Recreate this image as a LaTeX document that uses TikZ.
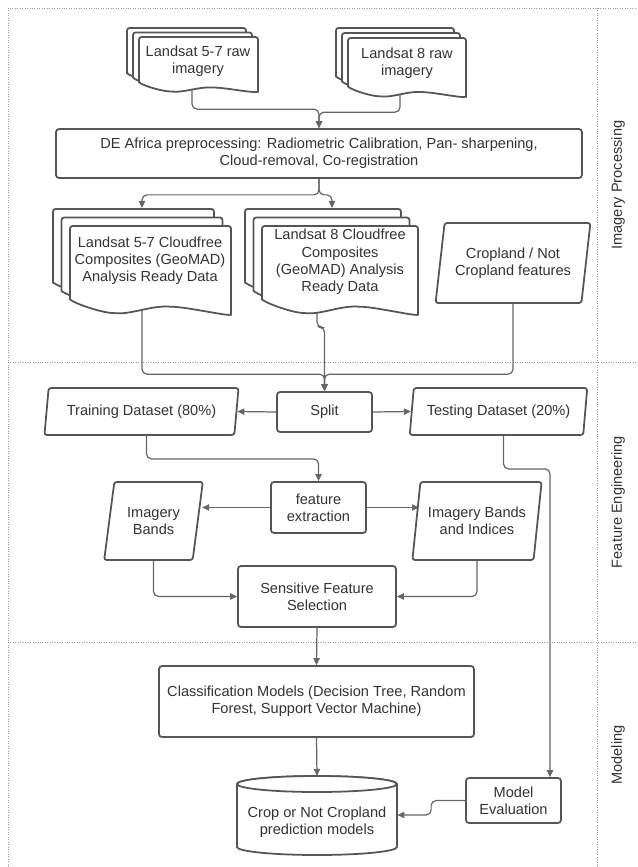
\documentclass[tikz,border=0pt]{standalone}
\usepackage{fontspec}
\setmainfont{Liberation Sans}
\usetikzlibrary{shapes.geometric,arrows.meta,backgrounds}

\definecolor{inkgray}{HTML}{333333}
\definecolor{linegray}{HTML}{555555}
\definecolor{conngray}{HTML}{666666}
\definecolor{lanegray}{HTML}{9A9A9A}

\tikzset{
  sheet/.style={draw=linegray, fill=white, line width=1pt, rounded corners=0.05cm},
  proc/.style={draw=linegray, fill=white, line width=1pt, rounded corners=0.06cm,
    align=center, inner sep=0pt, text=inkgray},
  data/.style={trapezium, trapezium left angle=76, trapezium right angle=104,
    trapezium stretches=true, draw=linegray, fill=white, line width=1pt,
    rounded corners=0.05cm, align=center, inner sep=0pt, text=inkgray},
  doctext/.style={align=center, inner sep=0pt, text=inkgray},
  conn/.style={draw=conngray, line width=0.7pt, rounded corners=0.1cm,
    -{Triangle[length=4pt,width=3.6pt]}},
  lane/.style={draw=lanegray, line width=0.4pt, densely dotted},
}

% one page of a document symbol: x1,y1,x2,y2 (wavy bottom)
\newcommand{\docsheet}[4]{%
  \pgfmathsetmacro{\sheetw}{(#3)-(#1)}
  \pgfmathsetmacro{\sheeta}{0.17*((#4)-(#2))}
  \filldraw[sheet] ({#1},{(#4)-\sheeta}) -- ({#1},{#2}) -- ({#3},{#2}) -- ({#3},{#4})
    -- plot[smooth, tension=0.6] coordinates {({#3},{#4})
      ({(#1)+0.62*\sheetw},{(#4)-0.67*\sheeta})
      ({(#1)+0.28*\sheetw},{(#4)-0.25*\sheeta}) ({#1},{(#4)-\sheeta})} -- cycle;
}
% stack of three pages: front page x1,y1,x2,y2 and offsets ox,oy
\newcommand{\docstack}[6]{%
  \docsheet{(#1)-2*(#5)}{(#2)-2*(#6)}{(#3)-2*(#5)}{(#4)-2*(#6)}
  \docsheet{(#1)-(#5)}{(#2)-(#6)}{(#3)-(#5)}{(#4)-(#6)}
  \docsheet{#1}{#2}{#3}{#4}
}

\begin{document}
\begin{tikzpicture}[x=0.02cm, y=-0.02cm, font=\fontsize{8.3}{9.8}\selectfont]
    \useasboundingbox (0,0) rectangle (637,867);

    % swimlanes
    \draw[lane] (8,867) -- (8,8) -- (637,8);
    \draw[lane] (597,8) -- (597,867);
    \draw[lane] (8,362) -- (637,362);
    \draw[lane] (8,642) -- (637,642);
    \node[doctext, rotate=90] (laneimg) at (618,185) {Imagery Processing};
    \node[doctext, rotate=90] (lanefeat) at (618,502) {Feature Engineering};
    \node[doctext, rotate=90] (lanemod) at (618,755) {Modeling};

    % raw imagery
    \docstack{139}{37}{258}{94}{6}{4.5}
    \node[doctext] (rawA) at (198,61) {Landsat 5-7 raw\\imagery};
    \docstack{348}{38}{466}{99}{6}{5}
    \node[doctext] (rawB) at (407,63) {Landsat 8 raw\\imagery};

    \node[proc, minimum width=10.52cm, minimum height=0.98cm] (prep) at (319,153.5)
      {DE Africa preprocessing: Radiometric Calibration, Pan- sharpening,\\Cloud-removal, Co-registration};

    % analysis ready data
    \docstack{70}{226}{231}{317}{8.5}{8.5}
    \node[doctext] (cloudA) at (150,261) {Landsat 5-7 Cloudfree\\Composites (GeoMAD)\\Analysis Ready Data};
    \coordinate (cloudAtop) at (142,208);
    \docstack{262}{226}{418}{317}{8.5}{8.5}
    \node[doctext] (cloudB) at (340,262) {Landsat 8 Cloudfree\\Composites\\(GeoMAD) Analysis\\Ready Data};
    \coordinate (cloudBtop) at (332,208);

    \node[data, minimum width=3.12cm, minimum height=1.6cm] (crop) at (513,263)
      {Cropland / Not\\Cropland features};

    % feature engineering
    \node[proc, minimum width=1.9cm, minimum height=0.8cm] (split) at (324.5,412) {Split};
    \node[data, minimum width=3.9cm, minimum height=0.94cm] (train) at (141.5,411.5) {Training Dataset (80\%)};
    \node[data, minimum width=3.58cm, minimum height=0.94cm] (test) at (498.5,411.5) {Testing Dataset (20\%)};
    \node[proc, minimum width=1.9cm, minimum height=1.02cm] (fe) at (318.5,507.5) {feature\\extraction};
    \node[data, minimum width=1.98cm, minimum height=1.56cm] (bands) at (153.5,521) {Imagery\\Bands};
    \node[data, minimum width=2.6cm, minimum height=1.56cm] (indices) at (477,521) {Imagery Bands\\and Indices};
    \node[proc, minimum width=3.16cm, minimum height=1.22cm] (sfs) at (317,596.5) {Sensitive Feature\\Selection};

    % modeling
    \node[proc, minimum width=6.3cm, minimum height=1.42cm] (cls) at (316.5,701.5)
      {Classification Models (Decision Tree, Random\\Forest, Support Vector Machine)};
    \filldraw[sheet, rounded corners=0pt] (237,784) -- (237,847)
      arc[start angle=180, end angle=360, x radius=1.6cm, y radius=0.16cm] -- (397,784)
      arc[start angle=0, end angle=180, x radius=1.6cm, y radius=0.16cm] -- cycle;
    \draw[sheet, rounded corners=0pt] (317,784) ellipse [x radius=1.6cm, y radius=0.16cm];
    \node[doctext, minimum width=3.2cm] (pred) at (317,822) {Crop or Not Cropland\\prediction models};
    \coordinate (predtop) at (317,776);
    \node[proc, minimum width=1.9cm, minimum height=0.9cm] (me) at (513.5,800.5) {Model\\Evaluation};

    % connectors
    \begin{scope}[on background layer]
      \draw[conn] ([xshift=-0.12cm]rawA.south) |- ([yshift=0.38cm]prep.north) -- (prep.north);
      \draw[conn] ([xshift=-0.14cm]rawB.south) |- ([yshift=0.32cm]prep.north) -- (prep.north);
      \draw[conn] (prep.south) -- ++(0,16) -| (cloudAtop);
      \draw[conn] (prep.south) -- ++(0,16) -| (cloudBtop);
      \draw[conn] ([xshift=-0.16cm]cloudA.south) |- ([yshift=0.34cm]split.north) -- (split.north);
      \draw[conn] ([xshift=-0.46cm]cloudB.south) |- ([yshift=1.28cm]split.north) -- (split.north);
      \draw[conn] (crop.south) |- ([yshift=0.34cm]split.north) -- (split.north);
      \draw[conn] (split.west) -- (train.east);
      \draw[conn] (split.east) -- (test.west);
      \draw[conn] ([xshift=0.1cm]train.south) -- ++(0,23) -| (fe.north);
      \draw[conn] (fe.west) -- ([xshift=0.07cm]fe.west -| bands.east);
      \draw[conn] (fe.east) -- ([xshift=0.07cm]fe.east -| indices.west);
      \draw[conn] (bands.south) |- (sfs.west);
      \draw[conn] (indices.south) |- (sfs.east);
      \draw[conn] (sfs.south) -- (cls.north);
      \draw[conn] (cls.south) -- (predtop);
      \draw[conn] ([xshift=0.1cm]test.south) -- ++(0,33) -| ([xshift=0.73cm]me.north);
      \draw[conn] (me.west) -- ++(-34,0) |- ([yshift=0.14cm]pred.east);
    \end{scope}
\end{tikzpicture}
\end{document}
